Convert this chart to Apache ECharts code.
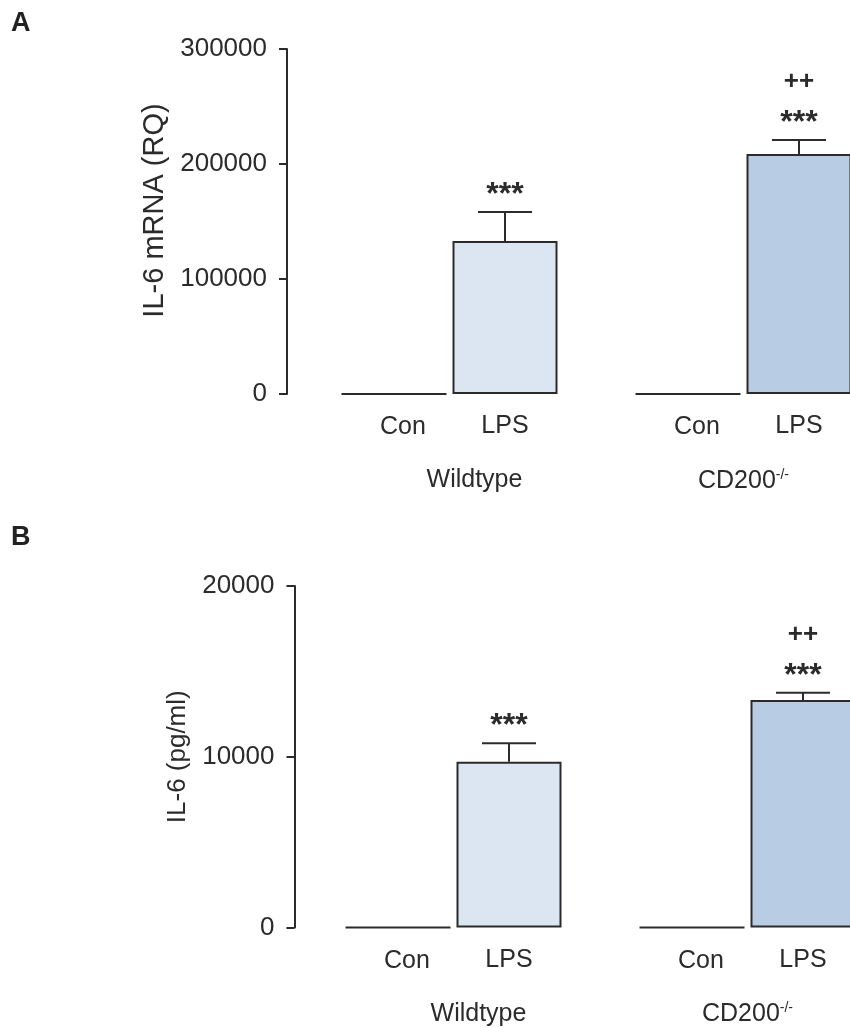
<!DOCTYPE html>
<html>
<head>
<meta charset="utf-8">
<title>IL-6</title>
<script src="https://cdn.jsdelivr.net/npm/echarts@6/dist/echarts.min.js"></script>
<style>
  html, body { margin: 0; padding: 0; background: #fff; }
  #main { width: 850px; height: 1028px; }
</style>
</head>
<body>
<div id="main"></div>
<script>
// groups on the x axis
const groups = ['Wildtype', 'CD200'];
const treatments = ['Con', 'LPS'];

// panel A: IL-6 mRNA (RQ)
const conA = [0, 0];
const lpsA = [133000, 208700];
const lpsErrA = [25300, 12200];
const starsA = ['***', '***'];
const plusA = ['', '++'];
const ticksA = [0, 100000, 200000, 300000];

// panel B: IL-6 (pg/ml)
const conB = [0, 0];
const lpsB = [9710, 13320];
const lpsErrB = [1080, 430];
const starsB = ['***', '***'];
const plusB = ['', '++'];
const ticksB = [0, 10000, 20000];

const lpsColors = ['#dce6f2', '#b8cce4'];

const FONT = 'Liberation Sans, Arial, sans-serif';
const INK = '#2b2b2b';
const BAR_W = 105;
const BAR_GAP = 6;

const chart = echarts.init(document.getElementById('main'));

// error bar + significance marks, drawn over the LPS bar
function errRender(stars, plus) {
  return function (params, api) {
    var i = api.value(0);
    var base = api.coord([i, api.value(1)]);
    var top = api.coord([i, api.value(1) + api.value(2)]);
    var x = base[0] + (BAR_W + BAR_GAP) / 2;
    var children = [
      { type: 'line', shape: { x1: x, y1: base[1], x2: x, y2: top[1] }, style: { stroke: INK, lineWidth: 2 } },
      { type: 'line', shape: { x1: x - 27, y1: top[1], x2: x + 27, y2: top[1] }, style: { stroke: INK, lineWidth: 2 } },
      { type: 'text', style: { text: stars[i], x: x, y: top[1] - 17, align: 'center', verticalAlign: 'middle', font: 'bold 32px ' + FONT, fill: INK } }
    ];
    if (plus[i]) {
      children.push({ type: 'text', style: { text: plus[i], x: x, y: top[1] - 58, align: 'center', verticalAlign: 'middle', font: 'bold 26px ' + FONT, fill: INK } });
    }
    return { type: 'group', children: children };
  };
}

function groupLabel(v) {
  return v === 'Wildtype' ? '{wt|Wildtype}' : '{base|CD200}{sup|-/-}';
}

function xAxisFor(gridIndex) {
  return {
    type: 'category',
    gridIndex: gridIndex,
    data: groups,
    axisLine: { show: false },
    axisTick: { show: false },
    axisLabel: {
      interval: 0,
      hideOverlap: false,
      margin: 74,
      formatter: groupLabel,
      color: INK,
      fontFamily: FONT,
      fontSize: 25,
      rich: {
        wt: { fontSize: 25, fontFamily: FONT, color: INK, padding: [0, 0, 0, 50] },
        base: { fontSize: 25, fontFamily: FONT, color: INK },
        sup: { fontSize: 14, fontFamily: FONT, color: INK, verticalAlign: 'top', padding: [0, 0, 12, 0] }
      }
    }
  };
}

function yAxisFor(gridIndex, ticks, name, offset, nameGap, nameSize, lift) {
  return {
    type: 'value',
    gridIndex: gridIndex,
    min: ticks[0],
    max: ticks[ticks.length - 1],
    interval: ticks[1] - ticks[0],
    offset: offset,
    name: name,
    nameLocation: 'middle',
    nameGap: nameGap,
    nameTextStyle: { fontFamily: FONT, fontSize: nameSize, color: INK, padding: [0, 0, 0, lift] },
    splitLine: { show: false },
    axisLine: { show: true, lineStyle: { color: INK, width: 2 } },
    axisTick: { show: true, length: 8, lineStyle: { color: INK, width: 2 } },
    axisLabel: {
      margin: 20, fontFamily: FONT, fontSize: 26, color: INK,
      formatter: function (v) { return String(v); }
    }
  };
}

function barLabel(name, dx) {
  return {
    show: true,
    position: 'bottom',
    distance: 20,
    offset: [dx, 0],
    formatter: name,
    fontFamily: FONT,
    fontSize: 25,
    color: INK
  };
}

function panelSeries(ax, con, lps, err, stars, plus) {
  return [
    {
      name: treatments[0],
      type: 'bar',
      xAxisIndex: ax, yAxisIndex: ax,
      barWidth: BAR_W,
      barGap: (BAR_GAP / BAR_W * 100) + '%',
      data: con,
      itemStyle: { color: 'rgba(0,0,0,0)', borderColor: INK, borderWidth: 2 },
      label: barLabel(treatments[0], 9)
    },
    {
      name: treatments[1],
      type: 'bar',
      xAxisIndex: ax, yAxisIndex: ax,
      barWidth: BAR_W,
      data: lps.map(function (v, i) {
        return { value: v, itemStyle: { color: lpsColors[i] } };
      }),
      itemStyle: { borderColor: INK, borderWidth: 2 },
      label: barLabel(treatments[1], 0)
    },
    {
      type: 'custom',
      xAxisIndex: ax, yAxisIndex: ax,
      renderItem: errRender(stars, plus),
      encode: { x: 0, y: 1 },
      z: 5,
      data: lps.map(function (v, i) { return [i, v, err[i]]; })
    }
  ];
}

const option = {
  backgroundColor: '#fff',
  animation: false,
  grid: [
    { left: 302.5, top: 49, width: 588, height: 345, outerBoundsMode: 'none' },
    { left: 306.5, top: 586, width: 588, height: 341.5, outerBoundsMode: 'none' }
  ],
  xAxis: [xAxisFor(0), xAxisFor(1)],
  yAxis: [
    yAxisFor(0, ticksA, 'IL-6 mRNA (RQ)', 15.5, 102, 29, 22),
    yAxisFor(1, ticksB, 'IL-6 (pg/ml)', 12, 101, 26, 0)
  ],
  graphic: [
    { type: 'text', left: 11, top: 10, style: { text: 'A', font: 'bold 27px ' + FONT, fill: '#222' } },
    { type: 'text', left: 11, top: 524, style: { text: 'B', font: 'bold 27px ' + FONT, fill: '#222' } }
  ],
  series: [].concat(
    panelSeries(0, conA, lpsA, lpsErrA, starsA, plusA),
    panelSeries(1, conB, lpsB, lpsErrB, starsB, plusB)
  )
};

chart.setOption(option);
</script>
</body>
</html>
